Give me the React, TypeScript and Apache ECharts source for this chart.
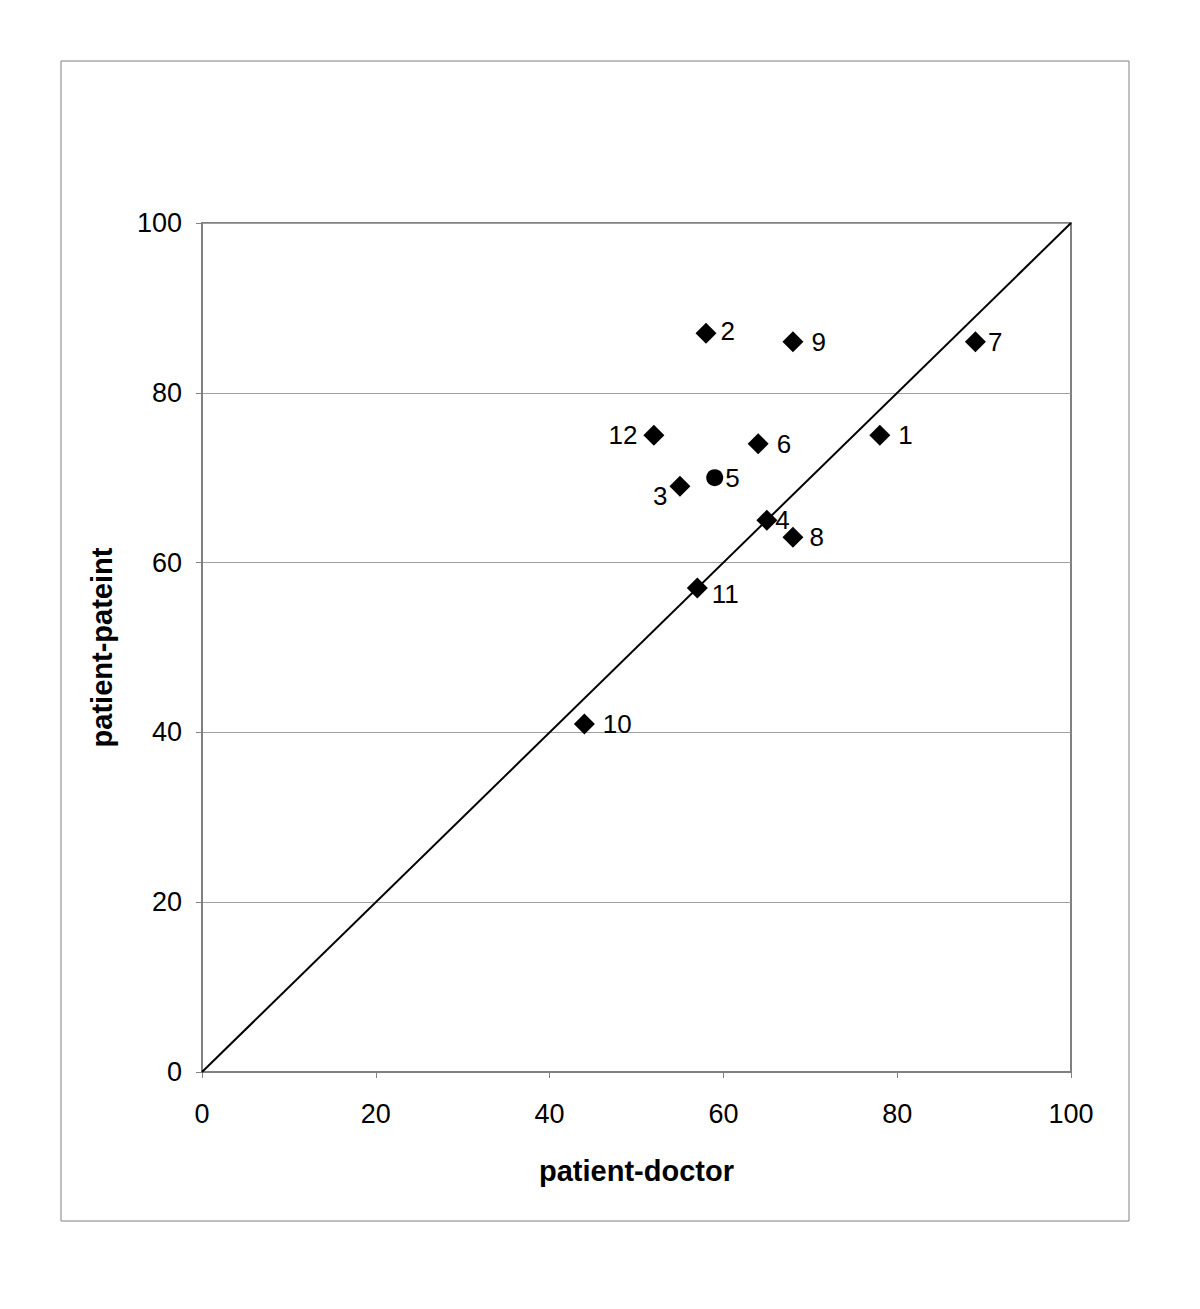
import React, { useEffect, useRef } from "react";
import * as echarts from "echarts";

const pointIds = ["1", "2", "3", "4", "6", "7", "8", "9", "10", "11", "12"];
const patientDoctor = [78, 58, 55, 65, 64, 89, 68, 68, 44, 57, 52];
const patientPatient = [75, 87, 69, 65, 74, 86, 63, 86, 41, 57, 75];

const circleId = "5";
const circleDoctor = 59;
const circlePatient = 70;

const diagonalX = [0, 100];
const diagonalY = [0, 100];

const xTicks = [0, 20, 40, 60, 80, 100];
const yTicks = [0, 20, 40, 60, 80, 100];

// label placement (style only)
const labelStyle: Record<string, { position: string; offset: number[] }> = {
  "1": { position: "right", offset: [0, 0] },
  "2": { position: "right", offset: [-4, -2] },
  "3": { position: "left", offset: [6, 10] },
  "4": { position: "right", offset: [-10, 0] },
  "5": { position: "right", offset: [-6, 0] },
  "6": { position: "right", offset: [0, 0] },
  "7": { position: "right", offset: [-6, 0] },
  "8": { position: "right", offset: [-2, 0] },
  "9": { position: "right", offset: [0, 0] },
  "10": { position: "right", offset: [0, 0] },
  "11": { position: "right", offset: [-4, 6] },
  "12": { position: "left", offset: [2, 0] },
};

export default function App() {
  const ref = useRef<HTMLDivElement>(null);
  useEffect(() => {
    document.body.style.margin = "0";
    const chart = echarts.init(ref.current!, undefined, { renderer: "svg" });
    const font = "'Liberation Sans', Arial, sans-serif";
    const mkLabel = (id: string) => ({
      show: true,
      formatter: id,
      position: labelStyle[id].position,
      offset: labelStyle[id].offset,
      distance: 8,
      fontSize: 26,
      color: "#000",
      fontFamily: font,
    });
    const diamonds = pointIds.map((id, i) => ({
      value: [patientDoctor[i], patientPatient[i]],
      name: id,
      label: mkLabel(id),
    }));
    chart.setOption({
      animation: false,
      backgroundColor: "#fff",
      textStyle: { fontFamily: font },
      grid: {
        left: 202,
        right: 129,
        top: 223,
        bottom: 237,
        show: true,
        borderColor: "#808080",
        borderWidth: 2,
        backgroundColor: "transparent",
      },
      graphic: [
        {
          type: "rect",
          shape: { x: 61, y: 61, width: 1068, height: 1160 },
          style: { fill: "none", stroke: "#808080", lineWidth: 1 },
          silent: true,
        },
      ],
      xAxis: {
        type: "value",
        min: xTicks[0],
        max: xTicks[xTicks.length - 1],
        interval: 20,
        name: "patient-doctor",
        nameLocation: "middle",
        nameGap: 84,
        nameTextStyle: { fontSize: 29, fontWeight: "bold", color: "#000", fontFamily: font },
        axisLine: { show: true, lineStyle: { color: "#808080", width: 2 } },
        axisTick: { show: true, inside: false, length: 6, lineStyle: { color: "#808080" } },
        axisLabel: { fontSize: 27, color: "#000", margin: 28, fontFamily: font },
        splitLine: { show: false },
      },
      yAxis: {
        type: "value",
        min: yTicks[0],
        max: yTicks[yTicks.length - 1],
        interval: 20,
        name: "patient-pateint",
        nameLocation: "middle",
        nameGap: 86,
        nameRotate: 90,
        nameTextStyle: { fontSize: 29, fontWeight: "bold", color: "#000", fontFamily: font },
        axisLine: { show: true, lineStyle: { color: "#808080", width: 2 } },
        axisTick: { show: true, inside: false, length: 6, lineStyle: { color: "#808080" } },
        axisLabel: { fontSize: 27, color: "#000", margin: 20, fontFamily: font },
        splitLine: { show: true, lineStyle: { color: "#a0a0a0", width: 1 } },
      },
      series: [
        {
          type: "line",
          data: diagonalX.map((x, i) => [x, diagonalY[i]]),
          showSymbol: false,
          symbol: "none",
          lineStyle: { color: "#000", width: 2 },
          silent: true,
          z: 2,
        },
        {
          type: "scatter",
          data: diamonds,
          symbol: "diamond",
          symbolSize: [21, 21],
          itemStyle: { color: "#000", opacity: 1 },
          z: 3,
        },
        {
          type: "scatter",
          data: [
            {
              value: [circleDoctor, circlePatient],
              name: circleId,
              label: mkLabel(circleId),
            },
          ],
          symbol: "circle",
          symbolSize: 17,
          itemStyle: { color: "#000", opacity: 1 },
          z: 3,
        },
      ],
    });
    return () => chart.dispose();
  }, []);
  return <div ref={ref} style={{ width: 1200, height: 1309 }} />;
}
